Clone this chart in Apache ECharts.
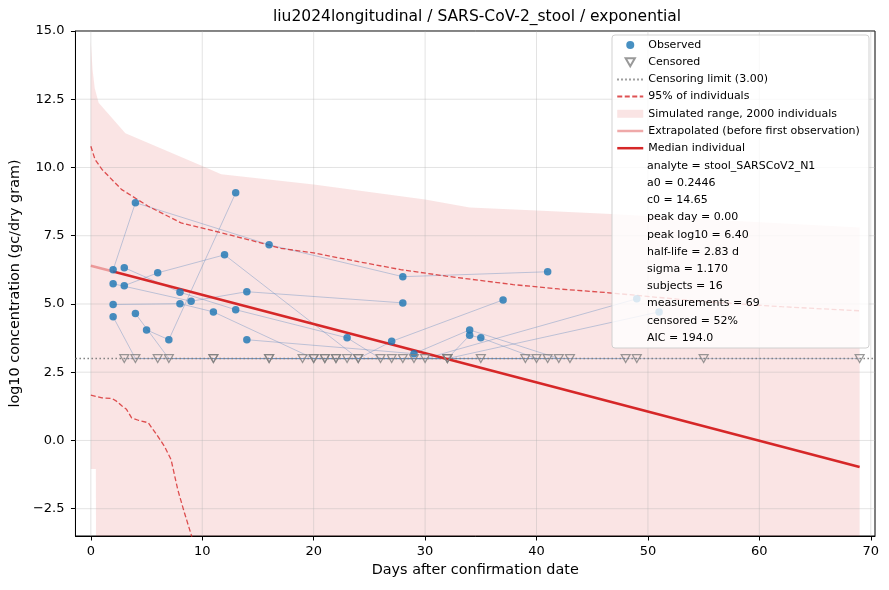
<!DOCTYPE html>
<html>
<head>
<meta charset="utf-8">
<title>liu2024longitudinal / SARS-CoV-2_stool / exponential</title>
<script src="https://cdn.jsdelivr.net/npm/echarts@6.0.0/dist/echarts.min.js"></script>
<style>
    html, body { margin: 0; padding: 0; background: #fff; }
    #chart { width: 889px; height: 590px; }
</style>
</head>
<body>
<div id="chart"></div>
<script>
    // axis limits and ticks
    var xMin = -1.38, xMax = 70.38;
    var yMin = -3.5, yMax = 15;
    var xTicks = [0, 10, 20, 30, 40, 50, 60, 70];
    var yTicks = [-2.5, 0, 2.5, 5, 7.5, 10, 12.5, 15];

    // censoring limit (log10 gc/dry gram)
    var limit = 3.0;

    // subjects: [day, log10 value, censored?]  (censored values sit on the limit)
    var subj01 = [[2, 6.25, 0], [4, 8.71, 0], [16, 7.17, 0], [28, 6.00, 0], [41, 6.18, 0]];
    var subj02 = [[3, 5.67, 0], [6, 6.14, 0], [12, 6.80, 0], [24, 3, 1], [43, 3, 1]];
    var subj03 = [[3, 6.33, 0], [8, 5.43, 0], [13, 4.79, 0], [23, 3.76, 0], [26, 3, 1], [41, 3, 1]];
    var subj04 = [[2, 4.98, 0], [8, 5.01, 0], [11, 4.71, 0], [20, 3, 1], [32, 3, 1]];
    var subj05 = [[2, 5.74, 0], [9, 5.10, 0], [14, 5.45, 0], [28, 5.04, 0]];
    var subj06 = [[2, 4.53, 0], [4, 3, 1], [11, 3, 1], [19, 3, 1]];
    var subj07 = [[4, 4.65, 0], [7, 3, 1], [16, 3, 1], [22, 3, 1]];
    var subj08 = [[5, 4.05, 0], [7, 3.69, 0], [13, 9.07, 0]];
    var subj09 = [[14, 3.69, 0], [29, 3.18, 0], [34, 4.05, 0], [42, 3, 1]];
    var subj10 = [[16, 3, 1], [24, 3, 1], [27, 3.63, 0], [37, 5.15, 0]];
    var subj11 = [[21, 3, 1], [32, 3, 1], [34, 3.85, 0], [35, 3.76, 0], [40, 3, 1]];
    var subj12 = [[20, 3, 1], [30, 3, 1], [49, 5.19, 0]];
    var subj13 = [[22, 3, 1], [32, 3, 1], [51, 4.71, 0]];
    var subj14 = [[11, 3, 1], [23, 3, 1], [27, 3, 1], [39, 3, 1], [48, 3, 1]];
    var subj15 = [[28, 3, 1], [35, 3, 1], [49, 3, 1], [55, 3, 1], [69, 3, 1]];
    var subj16 = [[3, 3, 1], [6, 3, 1], [21, 3, 1], [29, 3, 1]];
    var subjects = [subj01, subj02, subj03, subj04, subj05, subj06, subj07, subj08,
        subj09, subj10, subj11, subj12, subj13, subj14, subj15, subj16];

    // simulated range (2000 individuals), upper and lower edges
    var bandUpperDays = [0, 0.15, 0.35, 0.7, 3.1, 10, 11.7, 20, 30, 34, 40, 46.7, 55, 69];
    var bandUpperVals = [14.6, 13.6, 12.9, 12.37, 11.25, 10.05, 9.75, 9.38, 8.83, 8.53, 8.42, 8.3, 8.1, 7.8];
    var bandLowerDays = [0, 0.45, 0.5, 69];
    var bandLowerVals = [-1.05, -1.05, -12, -12];

    // 95% of individuals
    var p95UpDays = [0, 0.38, 1, 2.77, 5.15, 8.1, 11.1, 14.1, 17.05, 20, 24, 27.8, 31.9, 37.9, 42, 46.5, 54.6, 62, 69];
    var p95UpVals = [10.78, 10.29, 9.93, 9.19, 8.58, 7.97, 7.67, 7.36, 7.04, 6.87, 6.55, 6.26, 6.02, 5.71, 5.55, 5.41, 5.1, 4.9, 4.75];
    var p95LoDays = [0, 1, 1.9, 2.3, 2.8, 3.2, 3.66, 4.26, 5.15, 5.9, 6.6, 7.2, 7.8, 8.4, 9.0, 9.6];
    var p95LoVals = [1.66, 1.56, 1.54, 1.44, 1.26, 1.14, 0.83, 0.74, 0.65, 0.22, -0.21, -0.7, -1.8, -2.65, -3.44, -4.4];

    // median individual
    var extrapDays = [0, 2];
    var extrapVals = [6.40, 6.19];
    var medianDays = [2, 69];
    var medianVals = [6.19, -0.97];

    // fit summary shown in the legend box
    var statsLines = [
        'analyte = stool_SARSCoV2_N1',
        'a0 = 0.2446',
        'c0 = 14.65',
        'peak day = 0.00',
        'peak log10 = 6.40',
        'half-life = 2.83 d',
        'sigma = 1.170',
        'subjects = 16',
        'measurements = 69',
        'censored = 52%',
        'AIC = 194.0'
    ];

    var FONT = "'DejaVu Sans', sans-serif";
    var RED = '#d62728';
    var NOFILL = { color: 'rgba(0,0,0,0)', borderWidth: 0 };

    function zip(a, b) {
        return a.map(function (v, i) { return [v, b[i]]; });
    }

    var observed = [], censored = [];
    subjects.forEach(function (s) {
        s.forEach(function (p) {
            (p[2] ? censored : observed).push([p[0], p[1]]);
        });
    });

    var series = [];

    // band
    series.push({
        name: 'Simulated range, 2000 individuals',
        type: 'custom',
        z: 1,
        clip: true,
        silent: true,
        itemStyle: { color: 'rgba(214,39,40,0.125)' },
        data: [[0, 0]],
        renderItem: function (params, api) {
            var pts = [];
            for (var i = 0; i < bandUpperDays.length; i++) {
                pts.push(api.coord([bandUpperDays[i], bandUpperVals[i]]));
            }
            for (var j = bandLowerDays.length - 1; j >= 0; j--) {
                pts.push(api.coord([bandLowerDays[j], bandLowerVals[j]]));
            }
            return {
                type: 'polygon',
                shape: { points: pts },
                style: { fill: 'rgba(214,39,40,0.125)' }
            };
        }
    });

    // grid lines (drawn above the band, like matplotlib)
    xTicks.forEach(function (v) {
        series.push({
            type: 'line', z: 2, silent: true, symbol: 'none',
            lineStyle: { color: 'rgba(176,176,176,0.45)', width: 0.8 },
            data: [[v, yMin], [v, yMax]]
        });
    });
    yTicks.forEach(function (v) {
        series.push({
            type: 'line', z: 2, silent: true, symbol: 'none',
            lineStyle: { color: 'rgba(176,176,176,0.45)', width: 0.8 },
            data: [[xMin, v], [xMax, v]]
        });
    });

    // per-subject trajectories
    subjects.forEach(function (s) {
        series.push({
            type: 'line', z: 3, silent: true, symbol: 'none',
            lineStyle: { color: 'rgba(90,135,190,0.38)', width: 1 },
            data: s.map(function (p) { return [p[0], p[1]]; })
        });
    });

    series.push({
        name: 'Censoring limit (3.00)',
        type: 'line', z: 4, silent: true, symbol: 'none',
        itemStyle: NOFILL,
        lineStyle: { color: '#808080', width: 1.4, type: [1.5, 2.5] },
        data: [[xMin, limit], [xMax, limit]]
    });

    series.push({
        name: '95% of individuals',
        type: 'line', z: 4, silent: true, symbol: 'none',
        itemStyle: NOFILL,
        lineStyle: { color: 'rgba(214,39,40,0.8)', width: 1.3, type: [5, 2.5] },
        data: zip(p95UpDays, p95UpVals)
    });
    series.push({
        name: '95% of individuals',
        type: 'line', z: 4, silent: true, symbol: 'none',
        itemStyle: NOFILL,
        lineStyle: { color: 'rgba(214,39,40,0.8)', width: 1.3, type: [5, 2.5] },
        data: zip(p95LoDays, p95LoVals)
    });

    series.push({
        name: 'Extrapolated (before first observation)',
        type: 'line', z: 5, silent: true, symbol: 'none',
        itemStyle: NOFILL,
        lineStyle: { color: 'rgba(214,39,40,0.4)', width: 2.5 },
        data: zip(extrapDays, extrapVals)
    });
    series.push({
        name: 'Median individual',
        type: 'line', z: 5, silent: true, symbol: 'none',
        itemStyle: NOFILL,
        lineStyle: { color: RED, width: 2.5 },
        data: zip(medianDays, medianVals)
    });

    series.push({
        name: 'Observed',
        type: 'scatter', z: 6, silent: true,
        symbol: 'circle', symbolSize: 7.5,
        itemStyle: { color: '#1f77b4', opacity: 0.82 },
        data: observed
    });
    series.push({
        name: 'Censored',
        type: 'scatter', z: 6, silent: true,
        symbol: 'path://M0,0L10,0L5,8.66Z', symbolSize: [9, 8],
        itemStyle: { color: 'rgba(255,255,255,0)', borderColor: '#7f7f7f', borderWidth: 1.2 },
        data: censored
    });

    var graphics = [{
        type: 'rect',
        z: 10,
        shape: { x: 612, y: 35, width: 257, height: 313, r: 3 },
        style: { fill: 'rgba(255,255,255,0.8)', stroke: 'rgba(204,204,204,0.9)', lineWidth: 1 }
    }];
    statsLines.forEach(function (t, i) {
        graphics.push({
            type: 'text',
            z: 21,
            x: 647,
            y: 166 + i * 17.2,
            style: {
                text: t, fill: '#000', font: '11px ' + FONT,
                align: 'left', verticalAlign: 'middle'
            }
        });
    });

    var myChart = echarts.init(document.getElementById('chart'));
    var option = {
        animation: false,
        backgroundColor: '#fff',
        title: {
            text: 'liu2024longitudinal / SARS-CoV-2_stool / exponential',
            left: 273,
            top: 9,
            padding: 0,
            textStyle: { fontFamily: FONT, fontSize: 15.5, fontWeight: 'normal', color: '#000' }
        },
        grid: {
            left: 75, right: 14, top: 31, bottom: 54,
            show: true, borderColor: '#000', borderWidth: 1
        },
        legend: {
            orient: 'vertical',
            left: 616, top: 38.5,
            padding: 0,
            itemWidth: 26, itemHeight: 8, itemGap: 4.2,
            selectedMode: false,
            z: 20,
            textStyle: { fontFamily: FONT, fontSize: 11, color: '#000', lineHeight: 13 },
            data: [
                { name: 'Observed', icon: 'circle' },
                { name: 'Censored' },
                { name: 'Censoring limit (3.00)' },
                { name: '95% of individuals' },
                { name: 'Simulated range, 2000 individuals', icon: 'rect' },
                { name: 'Extrapolated (before first observation)', lineStyle: { width: 2.5 } },
                { name: 'Median individual', lineStyle: { width: 2.5 } }
            ]
        },
        xAxis: {
            type: 'value', min: xMin, max: xMax,
            name: 'Days after confirmation date',
            nameLocation: 'middle', nameGap: 25,
            nameTextStyle: { fontFamily: FONT, fontSize: 14.4, color: '#000' },
            axisLine: { show: true, onZero: false, lineStyle: { color: '#000', width: 1 } },
            axisTick: { show: true, length: 4.5, lineStyle: { color: '#000' }, customValues: xTicks },
            axisLabel: {
                customValues: xTicks, margin: 9,
                fontFamily: FONT, fontSize: 13, color: '#000',
                formatter: function (v) { return String(v); }
            },
            splitLine: { show: false }
        },
        yAxis: {
            type: 'value', min: yMin, max: yMax,
            name: 'log10 concentration (gc/dry gram)',
            nameLocation: 'middle', nameGap: 48,
            nameTextStyle: { fontFamily: FONT, fontSize: 14.4, color: '#000' },
            axisLine: { show: true, onZero: false, lineStyle: { color: '#000', width: 1 } },
            axisTick: { show: true, length: 4.5, lineStyle: { color: '#000' }, customValues: yTicks },
            axisLabel: {
                customValues: yTicks, margin: 11,
                fontFamily: FONT, fontSize: 13, color: '#000',
                formatter: function (v) {
                    return (v < 0 ? '\u2212' : '') + Math.abs(v).toFixed(1);
                }
            },
            splitLine: { show: false }
        },
        graphic: graphics,
        series: series
    };
    option && myChart.setOption(option);
</script>
</body>
</html>
